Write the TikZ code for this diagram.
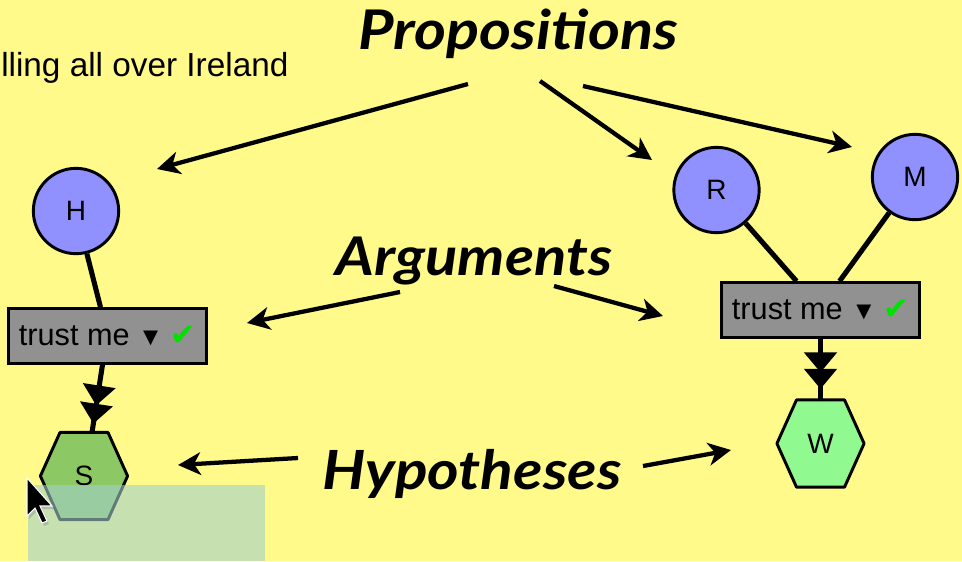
\documentclass[tikz,border=0pt]{standalone}
\usepackage{fontspec}
\setmainfont{Liberation Sans}
\newfontfamily\labfont{Lato}[FakeStretch=1.12]
\newfontfamily\uifont{DejaVu Sans}
\usetikzlibrary{arrows.meta,decorations.markings,calc}
\definecolor{bgyellow}{RGB}{255,250,138}
\definecolor{propblue}{RGB}{144,144,255}
\definecolor{arggray}{RGB}{145,145,145}
\definecolor{hypS}{RGB}{140,200,100}
\definecolor{hypW}{RGB}{144,250,144}
\definecolor{checkgreen}{RGB}{0,225,0}
\definecolor{selgreen}{RGB}{163,207,200}
\tikzset{
  prop/.style={circle, draw=black, line width=2.2pt, fill=propblue, minimum size=64pt, inner sep=0pt, font=\fontsize{21}{21}\selectfont},
  argbox/.style={rectangle, draw=black, line width=2.2pt, fill=arggray, minimum width=149pt, minimum height=41pt, inner sep=0pt, font=\fontsize{23}{23}\selectfont},
  hexnode/.style={rectangle, draw=none, minimum width=65pt, minimum height=65pt, inner sep=0pt},
  hexline/.style={draw=black, line width=2.2pt, line join=round},
  link/.style={line width=3.8pt},
  supports/.style={line width=3.8pt, postaction={decorate, decoration={markings,
      mark=at position #1 with {\arrow{Triangle[length=15pt,width=24pt]}},
      mark=at position #1+0.27 with {\arrow{Triangle[length=15pt,width=24pt]}}}}},
  callout/.style={line width=3.2pt, -{Stealth[length=17pt,width=17pt,inset=5pt]}},
  biglabel/.style={inner sep=0pt, anchor=base, font=\labfont\bfseries\itshape\fontsize{40}{40}\selectfont},
}
\newcommand{\hexfill}[3]{% name, colour, text
  \fill[#2] ($(#1.west)$) -- ($(#1.north)+(-24,0)$) -- ($(#1.north)+(24,0)$) -- ($(#1.east)$) -- ($(#1.south)+(24,0)$) -- ($(#1.south)+(-24,0)$) -- cycle;
  \draw[hexline] ($(#1.west)$) -- ($(#1.north)+(-24,0)$) -- ($(#1.north)+(24,0)$) -- ($(#1.east)$) -- ($(#1.south)+(24,0)$) -- ($(#1.south)+(-24,0)$) -- cycle;
  \node at (#1) {\fontsize{21}{21}\selectfont #3};
}
\begin{document}
\begin{tikzpicture}[x=0.75pt,y=-0.75pt]
\fill[bgyellow] (0,0) rectangle (962,561);
\useasboundingbox (0,0) rectangle (962,561);

% header text
\node[inner sep=0pt, anchor=base west, font=\fontsize{25}{25}\selectfont] (title) at (1,76) {lling all over Ireland};

% nodes
\node[hexnode] (S) at (84,476) {};
\node[hexnode] (W) at (820.5,443.5) {};
\node[prop] (H) at (76,211) {H};
\node[prop] (R) at (716.5,190) {R};
\node[prop] (M) at (915,177) {M};
\node[argbox] (A1) at (107.5,336) {trust me \fontsize{19}{19}\selectfont▼ \textcolor{checkgreen}{\uifont\fontsize{23}{23}\selectfont ✔}};
\node[argbox] (A2) at (820.5,310) {trust me \fontsize{19}{19}\selectfont▼ \textcolor{checkgreen}{\uifont\fontsize{23}{23}\selectfont ✔}};

% edges
\draw[link] (H) -- ($(A1.north)+(-7,0)$);
\draw[link] (R) -- ($(A2.north)+(-24,0)$);
\draw[link] (M) -- ($(A2.north)+(19,0)$);
\draw[supports=0.6] ($(A1.south)+(-5,0)$) -- ($(S.north)+(8,0)$);
\draw[supports=0.55] (A2.south) -- (W.north);

\hexfill{S}{hypS}{S}
\hexfill{W}{hypW}{W}

% selection rectangle and cursor
\fill[selgreen, opacity=0.6] (28,485) rectangle (265,561);
\coordinate (cur) at (27,478);
\fill[black!40, opacity=0.5] ($(cur)+(2,3)$) -- ++(0,38) -- ++(8,-8) -- ++(7,15) -- ++(5,-2) -- ++(-7,-15) -- ++(12,0) -- cycle;
\filldraw[fill=black, draw=white, line width=0.8pt, line join=miter] (cur) -- ++(0,38) -- ++(8,-8) -- ++(7,15) -- ++(5,-2) -- ++(-7,-15) -- ++(12,0) -- cycle;

% labels
\node[biglabel, font=\labfont\bfseries\itshape\fontsize{41}{41}\selectfont] (props) at (518,49) {Propositions};
\node[biglabel] (args) at (474,275) {Arguments};
\node[biglabel, font=\labfont\bfseries\itshape\fontsize{40.5}{41}\selectfont] (hyps) at (472,489) {Hypotheses};

% callout arrows
\coordinate (p1s) at (468,84); \coordinate (p1e) at (157,169);
\coordinate (p2s) at (540,81); \coordinate (p2e) at (652,160);
\coordinate (p3s) at (583,86); \coordinate (p3e) at (852,147);
\coordinate (a1s) at (400,292); \coordinate (a1e) at (247,323);
\coordinate (a2s) at (554,286); \coordinate (a2e) at (663,316);
\coordinate (h1s) at (298,458); \coordinate (h1e) at (178,465);
\coordinate (h2s) at (643,466); \coordinate (h2e) at (731,450);
\draw[callout] (p1s) -- (p1e);
\draw[callout] (p2s) -- (p2e);
\draw[callout] (p3s) -- (p3e);
\draw[callout] (a1s) -- (a1e);
\draw[callout] (a2s) -- (a2e);
\draw[callout] (h1s) -- (h1e);
\draw[callout] (h2s) -- (h2e);
\end{tikzpicture}
\end{document}
